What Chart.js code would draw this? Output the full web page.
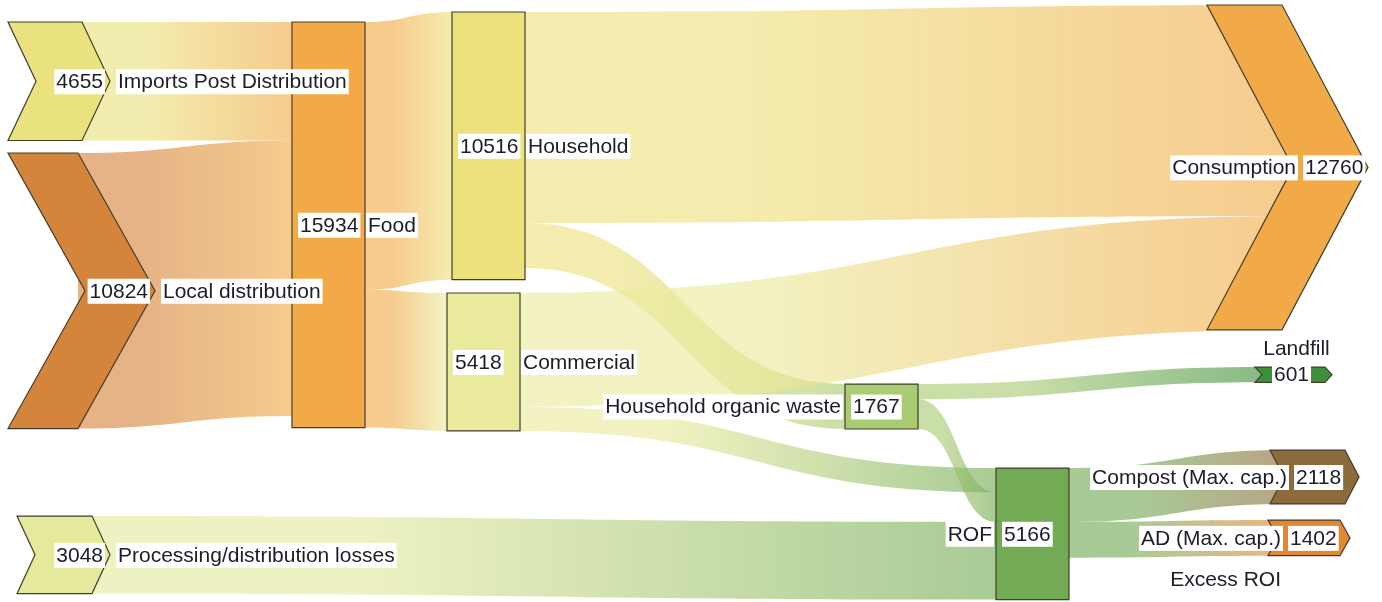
<!DOCTYPE html>
<html>
<head>
<meta charset="utf-8">
<title>Food waste flows</title>
<script src="https://cdn.jsdelivr.net/npm/chart.js@4.4.0/dist/chart.umd.min.js"></script>
<style>
    html, body { margin: 0; padding: 0; background: #ffffff; }
    #wrap { width: 1382px; height: 602px; }
</style>
</head>
<body>
<div id="wrap"><canvas id="sankeyChart" width="1382" height="602"></canvas></div>
<script>
// Nodes (tonnes)
const nodeNames = [
    'Imports Post Distribution', 'Local distribution', 'Processing/distribution losses',
    'Food', 'Household', 'Commercial', 'Household organic waste', 'ROF',
    'Consumption', 'Landfill', 'Compost (Max. cap.)', 'AD (Max. cap.)'
];
const nodeValues = [4655, 10824, 3048, 15934, 10516, 5418, 1767, 5166, 12760, 601, 2118, 1402];

// Flows: source index -> target index
const flowFrom   = [0, 1, 3, 3, 4, 4, 5, 5, 6, 6, 2, 7, 7];
const flowTo     = [3, 3, 4, 5, 8, 6, 8, 7, 9, 7, 7, 10, 11];
const flowValues = [4655, 10824, 10516, 5418, 8294, 1767, 4466, 952, 601, 1166, 3048, 2118, 1402];

// Free text under the AD arrow
const noteText = 'Excess ROI';

// Layout of the nodes (x in px units of the x scale, top in value units of the y scale)
const layout = {
    x:     [8, 8, 17, 292, 452, 447, 845, 996, 1207, 1255, 1270, 1268],
    w:     [74, 70, 75, 73, 73, 73, 73, 73, 75, 70, 75, 72],
    top:   [864, 6011, 20273, 864, 471, 11511, 15087, 18387, 196, 14419, 17680, 20430],
    depth: [28, 77, 18, 0, 0, 0, 0, 0, 86, 7, 14, 10],   // chevron depth, 0 = rectangle
    label: ['src', 'src', 'src', 'rect', 'rect', 'rect', 'left', 'left', 'dst', 'landfill', 'dst', 'dst']
};

// Colours
const nodeColors = ['#e9e27e', '#d5843b', '#e4e99c', '#f2aa48', '#ece17c', '#eaeb9c',
                    '#a9cb72', '#72ab54', '#f2aa48', '#3e8f3a', '#8c6b3c', '#e08834'];
const FLOW_ALPHA = 0.62;
const FONT = '21px "Liberation Sans", Arial, sans-serif';

function withAlpha(hex, a) {
    const n = parseInt(hex.slice(1), 16);
    return `rgba(${(n >> 16) & 255}, ${(n >> 8) & 255}, ${n & 255}, ${a})`;
}

// Geometry of a node, via the chart scales
function nodeBox(chart, i) {
    const xs = chart.scales.x, ys = chart.scales.y;
    const x0 = xs.getPixelForValue(layout.x[i]);
    const x1 = xs.getPixelForValue(layout.x[i] + layout.w[i]);
    const d = xs.getPixelForValue(layout.x[i] + layout.depth[i]) - x0;
    const y0 = ys.getPixelForValue(layout.top[i]);
    const y1 = ys.getPixelForValue(layout.top[i] + nodeValues[i]);
    return { x0, x1, d, y0, y1, ym: (y0 + y1) / 2 };
}

function drawFlows(chart) {
    const ctx = chart.ctx, ys = chart.scales.y;
    const H = chart.height;
    const outOff = nodeValues.map(() => 0);
    const inOff = nodeValues.map(() => 0);

    flowValues.forEach((v, k) => {
        const s = flowFrom[k], t = flowTo[k];
        const bs = nodeBox(chart, s), bt = nodeBox(chart, t);
        const sy0 = ys.getPixelForValue(layout.top[s] + outOff[s]);
        const sy1 = ys.getPixelForValue(layout.top[s] + outOff[s] + v);
        const ty0 = ys.getPixelForValue(layout.top[t] + inOff[t]);
        const ty1 = ys.getPixelForValue(layout.top[t] + inOff[t] + v);
        outOff[s] += v;
        inOff[t] += v;

        const sx = bs.x1;
        const tx = bt.x0 + bt.d;   // run into the notch of arrow targets
        const mx = (sx + tx) / 2;

        ctx.save();
        if (bt.d > 0) {
            // keep the flow inside the notch of the target arrow
            ctx.beginPath();
            ctx.moveTo(0, 0);
            ctx.lineTo(bt.x0, 0);
            ctx.lineTo(bt.x0, bt.y0);
            ctx.lineTo(bt.x0 + bt.d, bt.ym);
            ctx.lineTo(bt.x0, bt.y1);
            ctx.lineTo(bt.x0, H);
            ctx.lineTo(0, H);
            ctx.closePath();
            ctx.clip();
        }

        const g = ctx.createLinearGradient(sx, 0, tx, 0);
        g.addColorStop(0, withAlpha(nodeColors[s], FLOW_ALPHA));
        g.addColorStop(0.3, withAlpha(nodeColors[s], FLOW_ALPHA));
        g.addColorStop(1, withAlpha(nodeColors[t], FLOW_ALPHA));

        ctx.beginPath();
        ctx.moveTo(sx, sy0);
        ctx.bezierCurveTo(mx, sy0, mx, ty0, tx, ty0);
        ctx.lineTo(tx, ty1);
        ctx.bezierCurveTo(mx, ty1, mx, sy1, sx, sy1);
        ctx.closePath();
        ctx.fillStyle = g;
        ctx.fill();
        ctx.restore();
    });
}

function drawNodes(chart) {
    const ctx = chart.ctx;
    nodeValues.forEach((v, i) => {
        const b = nodeBox(chart, i);
        ctx.beginPath();
        if (b.d > 0) {
            // chevron shape
            ctx.moveTo(b.x0, b.y0);
            ctx.lineTo(b.x1, b.y0);
            ctx.lineTo(b.x1 + b.d, b.ym);
            ctx.lineTo(b.x1, b.y1);
            ctx.lineTo(b.x0, b.y1);
            ctx.lineTo(b.x0 + b.d, b.ym);
        } else {
            ctx.rect(b.x0, b.y0, b.x1 - b.x0, b.y1 - b.y0);
        }
        ctx.closePath();
        ctx.fillStyle = nodeColors[i];
        ctx.fill();
        ctx.lineWidth = 1.2;
        ctx.strokeStyle = '#433d2c';
        ctx.stroke();
    });
}

// Text on a white box; align = left | right | center
function boxText(ctx, text, x, y, align, boxed = true) {
    ctx.font = FONT;
    const w = ctx.measureText(text).width;
    const left = align === 'left' ? x : (align === 'right' ? x - w : x - w / 2);
    if (boxed) {
        ctx.fillStyle = '#ffffff';
        ctx.fillRect(left - 2, y - 12, w + 4, 25);
    }
    ctx.fillStyle = '#1c1c2a';
    ctx.textAlign = 'left';
    ctx.textBaseline = 'middle';
    ctx.fillText(text, left, y + 1);
    return left;
}

function drawLabels(chart) {
    const ctx = chart.ctx;
    nodeValues.forEach((v, i) => {
        const b = nodeBox(chart, i);
        const val = String(v);
        const name = nodeNames[i];
        switch (layout.label[i]) {
            case 'src': {
                const tip = b.x1 + b.d;
                boxText(ctx, val, tip - 7, b.ym, 'right');
                boxText(ctx, name, tip + 8, b.ym, 'left');
                break;
            }
            case 'rect':
                boxText(ctx, val, b.x0 + 8, b.ym, 'left');
                boxText(ctx, name, b.x1 + 3, b.ym, 'left');
                break;
            case 'left':
                boxText(ctx, name, b.x0 - 4, b.ym, 'right');
                boxText(ctx, val, b.x0 + 8, b.ym, 'left');
                break;
            case 'dst': {
                const vx = b.x0 + b.d + 12;
                boxText(ctx, val, vx, b.ym, 'left');
                boxText(ctx, name, vx - 9, b.ym, 'right');
                if (i === 11) {
                    boxText(ctx, noteText, vx - 9, b.y1 + 23, 'right', false);
                }
                break;
            }
            case 'landfill': {
                const cx = (b.x0 + b.x1 + b.d) / 2;
                boxText(ctx, name, cx + 3, b.y0 - 19, 'center', false);
                boxText(ctx, val, cx - 2, b.ym, 'center');
                break;
            }
        }
    });
}

const sankeyPlugin = {
    id: 'sankeyDraw',
    afterDraw(chart) {
        const ctx = chart.ctx;
        ctx.save();
        drawFlows(chart);
        drawNodes(chart);
        drawLabels(chart);
        ctx.restore();
    }
};

const ctx = document.getElementById('sankeyChart').getContext('2d');
new Chart(ctx, {
    type: 'scatter',
    data: { datasets: [{ data: [] }] },
    options: {
        responsive: false,
        devicePixelRatio: 1,
        animation: false,
        layout: { padding: 0 },
        plugins: {
            legend: { display: false },
            tooltip: { enabled: false }
        },
        scales: {
            x: { type: 'linear', min: 0, max: 1382, display: false },
            y: { type: 'linear', min: 0, max: 23650, reverse: true, display: false }
        }
    },
    plugins: [sankeyPlugin]
});
</script>
</body>
</html>
